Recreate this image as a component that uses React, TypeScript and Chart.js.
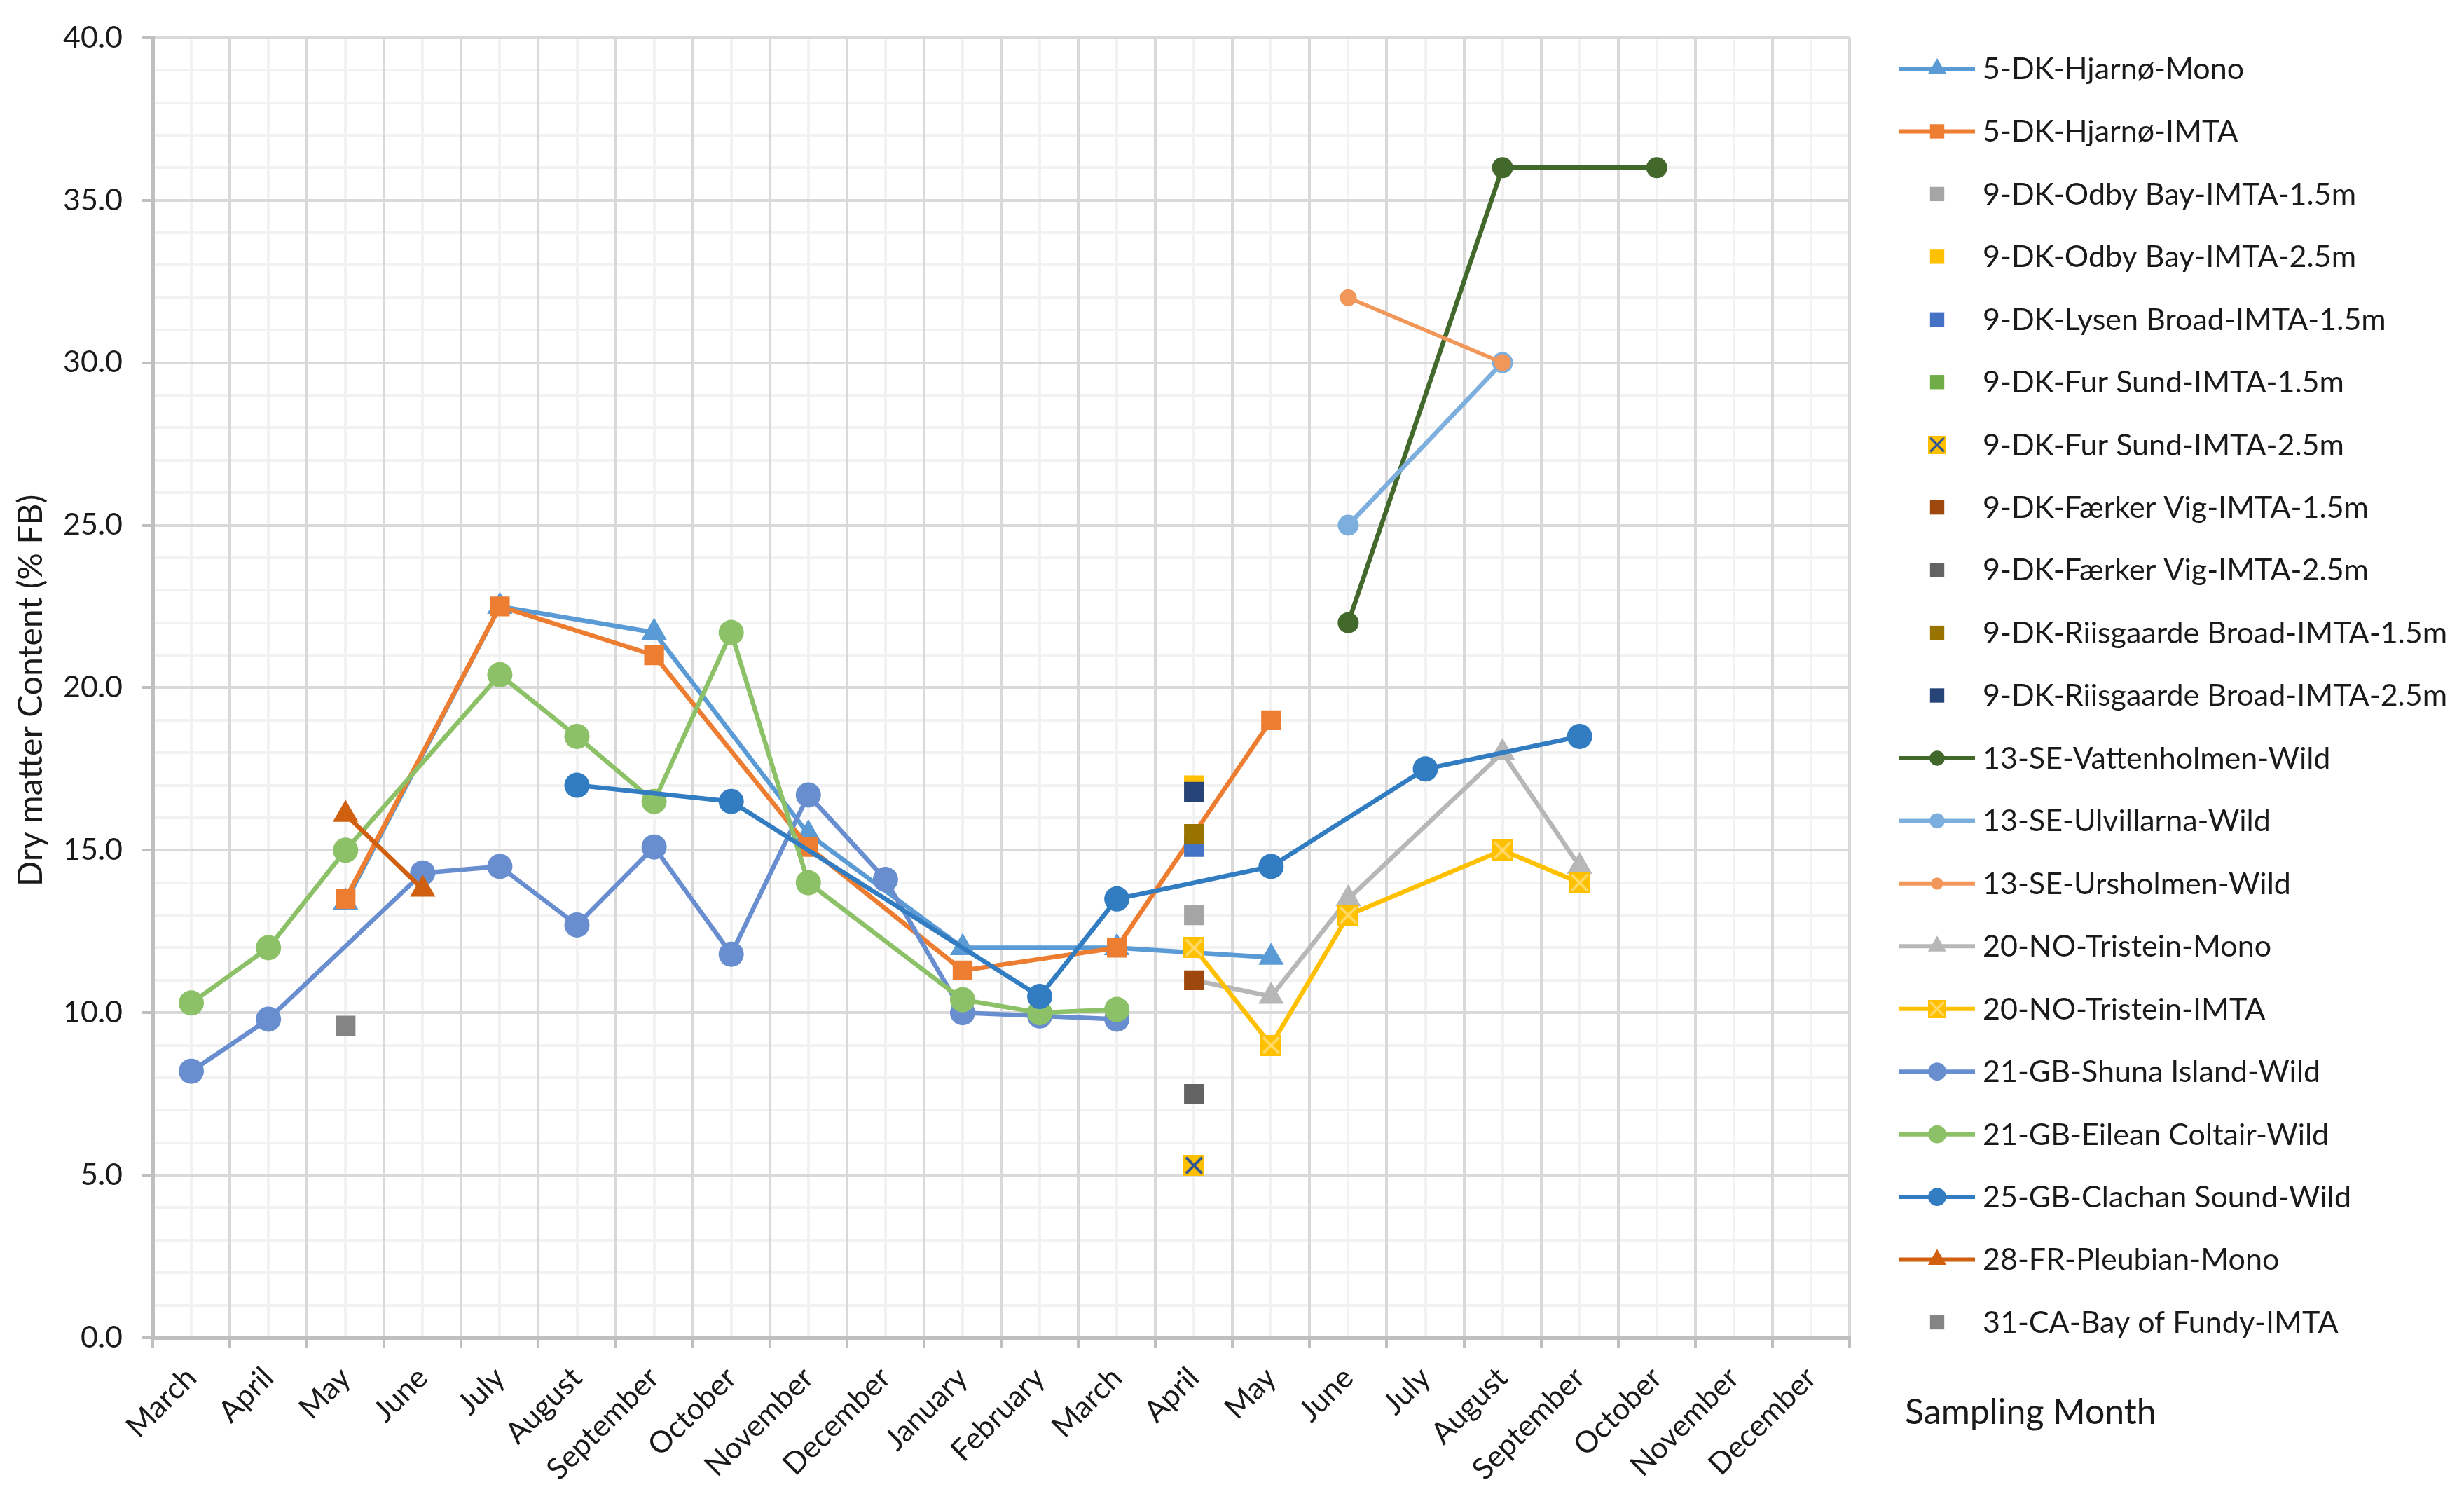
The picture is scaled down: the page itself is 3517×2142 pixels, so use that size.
import { useEffect, useRef } from "react";
import { Chart, registerables } from "chart.js";
import { drawPoint } from "chart.js/helpers";

Chart.register(...registerables);

const _ = null;

// sampling months along the x axis (two seasons)
const months = [
  "March", "April", "May", "June", "July", "August", "September", "October", "November", "December",
  "January", "February", "March", "April", "May", "June", "July", "August", "September", "October",
  "November", "December",
];

const yMax = 40;
const yStep = 5;

const hjarnoMono = [_, _, 13.4, _, 22.5, _, 21.7, _, 15.5, _, 12.0, _, 12.0, _, 11.7, _, _, _, _, _, _, _];
const hjarnoImta = [_, _, 13.5, _, 22.5, _, 21.0, _, 15.1, _, 11.3, _, 12.0, _, 19.0, _, _, _, _, _, _, _];
const odby15 = [_, _, _, _, _, _, _, _, _, _, _, _, _, 13.0, _, _, _, _, _, _, _, _];
const odby25 = [_, _, _, _, _, _, _, _, _, _, _, _, _, 17.0, _, _, _, _, _, _, _, _];
const lysen15 = [_, _, _, _, _, _, _, _, _, _, _, _, _, 15.1, _, _, _, _, _, _, _, _];
const furSund15 = [_, _, _, _, _, _, _, _, _, _, _, _, _, 5.3, _, _, _, _, _, _, _, _];
const furSund25 = [_, _, _, _, _, _, _, _, _, _, _, _, _, 5.3, _, _, _, _, _, _, _, _];
const faerker15 = [_, _, _, _, _, _, _, _, _, _, _, _, _, 11.0, _, _, _, _, _, _, _, _];
const faerker25 = [_, _, _, _, _, _, _, _, _, _, _, _, _, 7.5, _, _, _, _, _, _, _, _];
const riis15 = [_, _, _, _, _, _, _, _, _, _, _, _, _, 15.5, _, _, _, _, _, _, _, _];
const riis25 = [_, _, _, _, _, _, _, _, _, _, _, _, _, 16.8, _, _, _, _, _, _, _, _];
const vattenholmen = [_, _, _, _, _, _, _, _, _, _, _, _, _, _, _, 22.0, _, 36.0, _, 36.0, _, _];
const ulvillarna = [_, _, _, _, _, _, _, _, _, _, _, _, _, _, _, 25.0, _, 30.0, _, _, _, _];
const ursholmen = [_, _, _, _, _, _, _, _, _, _, _, _, _, _, _, 32.0, _, 30.0, _, _, _, _];
const tristeinMono = [_, _, _, _, _, _, _, _, _, _, _, _, _, 11.0, 10.5, 13.5, _, 18.0, 14.5, _, _, _];
const tristeinImta = [_, _, _, _, _, _, _, _, _, _, _, _, _, 12.0, 9.0, 13.0, _, 15.0, 14.0, _, _, _];
const shuna = [8.2, 9.8, _, 14.3, 14.5, 12.7, 15.1, 11.8, 16.7, 14.1, 10.0, 9.9, 9.8, _, _, _, _, _, _, _, _, _];
const eilean = [10.3, 12.0, 15.0, _, 20.4, 18.5, 16.5, 21.7, 14.0, _, 10.4, 10.0, 10.1, _, _, _, _, _, _, _, _, _];
const clachan = [_, _, _, _, _, 17.0, _, 16.5, _, _, _, 10.5, 13.5, _, 14.5, _, 17.5, _, 18.5, _, _, _];
const pleubian = [_, _, 16.1, 13.8, _, _, _, _, _, _, _, _, _, _, _, _, _, _, _, _, _, _];
const bayOfFundy = [_, _, 9.6, _, _, _, _, _, _, _, _, _, _, _, _, _, _, _, _, _, _, _];

const seriesNames = [
  "5-DK-Hjarnø-Mono",
  "5-DK-Hjarnø-IMTA",
  "9-DK-Odby Bay-IMTA-1.5m",
  "9-DK-Odby Bay-IMTA-2.5m",
  "9-DK-Lysen Broad-IMTA-1.5m",
  "9-DK-Fur Sund-IMTA-1.5m",
  "9-DK-Fur Sund-IMTA-2.5m",
  "9-DK-Færker Vig-IMTA-1.5m",
  "9-DK-Færker Vig-IMTA-2.5m",
  "9-DK-Riisgaarde Broad-IMTA-1.5m",
  "9-DK-Riisgaarde Broad-IMTA-2.5m",
  "13-SE-Vattenholmen-Wild",
  "13-SE-Ulvillarna-Wild",
  "13-SE-Ursholmen-Wild",
  "20-NO-Tristein-Mono",
  "20-NO-Tristein-IMTA",
  "21-GB-Shuna Island-Wild",
  "21-GB-Eilean Coltair-Wild",
  "25-GB-Clachan Sound-Wild",
  "28-FR-Pleubian-Mono",
  "31-CA-Bay of Fundy-IMTA",
];

const seriesValues = [
  hjarnoMono, hjarnoImta, odby15, odby25, lysen15, furSund15, furSund25, faerker15, faerker25,
  riis15, riis25, vattenholmen, ulvillarna, ursholmen, tristeinMono, tristeinImta, shuna, eilean,
  clachan, pleubian, bayOfFundy,
];

type Look = { color: string; marker: string; r: number; line: boolean; cross?: string; width?: number };

const looks: Look[] = [
  { color: "#5B9BD5", marker: "triangle", r: 21, line: true },
  { color: "#ED7D31", marker: "rect", r: 20, line: true },
  { color: "#A5A5A5", marker: "rect", r: 20, line: false },
  { color: "#FFC000", marker: "rect", r: 20, line: false },
  { color: "#4472C4", marker: "rect", r: 20, line: false },
  { color: "#70AD47", marker: "rect", r: 20, line: false },
  { color: "#FFC000", marker: "xbox", cross: "#2F5597", r: 20, line: false },
  { color: "#9E480E", marker: "rect", r: 20, line: false },
  { color: "#636363", marker: "rect", r: 20, line: false },
  { color: "#997300", marker: "rect", r: 20, line: false },
  { color: "#264478", marker: "rect", r: 20, line: false },
  { color: "#43682B", marker: "circle", r: 15, line: true },
  { color: "#7CAFDD", marker: "circle", r: 15, line: true },
  { color: "#F1975A", marker: "circle", r: 12, line: true, width: 5.5 },
  { color: "#B7B7B7", marker: "triangle", r: 21, line: true },
  { color: "#FFC000", marker: "xbox", cross: "#FFD966", r: 20, line: true },
  { color: "#698ED0", marker: "circle", r: 18, line: true },
  { color: "#8CC168", marker: "circle", r: 18, line: true },
  { color: "#327DC2", marker: "circle", r: 18, line: true },
  { color: "#D0600F", marker: "triangle", r: 21, line: true },
  { color: "#848484", marker: "rect", r: 20, line: false },
];

const FONT = "Lato";
const TEXT = "#1a1a1a";
const MAJOR = "#D9D9D9";
const MINOR = "#F2F2F2";
const AXIS = "#BFBFBF";

function xBox(fill: string, cross: string, side: number) {
  const c = document.createElement("canvas");
  c.width = side;
  c.height = side;
  const g = c.getContext("2d")!;
  g.fillStyle = fill;
  g.fillRect(0, 0, side, side);
  g.strokeStyle = cross;
  g.lineWidth = side * 0.13;
  g.beginPath();
  g.moveTo(side * 0.12, side * 0.12);
  g.lineTo(side * 0.88, side * 0.88);
  g.moveTo(side * 0.88, side * 0.12);
  g.lineTo(side * 0.12, side * 0.88);
  g.stroke();
  return c;
}

function pointStyleOf(look: Look, scale: number): any {
  if (look.marker === "xbox") return xBox(look.color, look.cross || look.color, Math.round(look.r * 1.5 * scale));
  return look.marker;
}

// legend, axis title and the stray "Sampling Month" caption, Excel style
const extrasPlugin = {
  id: "extras",
  afterDraw(chart: Chart) {
    const ctx = chart.ctx;
    ctx.save();
    const rowTop = 98;
    const rowGap = 89.45;
    chart.data.datasets.forEach((ds: any, i: number) => {
      const look = looks[i];
      const y = rowTop + i * rowGap;
      if (look.line) {
        ctx.strokeStyle = look.color;
        ctx.lineWidth = 6;
        ctx.beginPath();
        ctx.moveTo(2711, y);
        ctx.lineTo(2819, y);
        ctx.stroke();
      }
      ctx.fillStyle = look.color;
      ctx.strokeStyle = look.color;
      drawPoint(
        ctx,
        { pointStyle: pointStyleOf(look, 0.85), radius: look.r * 0.72, rotation: 0, borderWidth: 0 } as any,
        2765,
        y
      );
      ctx.fillStyle = TEXT;
      ctx.font = `43px ${FONT}`;
      ctx.textAlign = "left";
      ctx.textBaseline = "middle";
      ctx.fillText(ds.label, 2830, y + 1);
    });

    const area = chart.chartArea;
    ctx.save();
    ctx.translate(45, (area.top + area.bottom) / 2 + 4);
    ctx.rotate(-Math.PI / 2);
    ctx.textAlign = "center";
    ctx.textBaseline = "middle";
    ctx.fillStyle = TEXT;
    ctx.font = `48px ${FONT}`;
    ctx.fillText("Dry matter Content (% FB)", 0, 0);
    ctx.restore();

    ctx.fillStyle = TEXT;
    ctx.font = `50px ${FONT}`;
    ctx.textAlign = "left";
    ctx.textBaseline = "middle";
    ctx.fillText("Sampling Month", 2719, 2016);
    ctx.restore();
  },
};

function App() {
  const chartRef = useRef<HTMLCanvasElement>(null);
  const chartInstance = useRef<Chart | null>(null);

  useEffect(() => {
    if (chartInstance.current) chartInstance.current.destroy();

    const datasets = seriesNames.map((name, i) => {
      const look = looks[i];
      const style = pointStyleOf(look, 1);
      return {
        label: name,
        data: seriesValues[i],
        borderColor: look.color,
        backgroundColor: look.color,
        borderWidth: look.width || 6.5,
        borderJoinStyle: "round" as const,
        borderCapStyle: "round" as const,
        pointStyle: style,
        // Tristein-Mono's April marker sits hidden behind the Færker Vig square
        pointRadius: name === "20-NO-Tristein-Mono" ? (c: any) => (c.dataIndex === 13 ? 0 : look.r) : look.r,
        pointBorderWidth: 0,
        pointHoverRadius: look.r,
        showLine: look.line,
        spanGaps: true,
        tension: 0,
        order: look.line ? 100 - i : -i,
      };
    });

    chartInstance.current = new Chart(chartRef.current!, {
      type: "line",
      data: { labels: months, datasets },
      options: {
        animation: false,
        responsive: true,
        maintainAspectRatio: false,
        devicePixelRatio: 1,
        events: [],
        layout: { padding: { top: 52, right: 3517 - 2640, bottom: 0, left: 0 } },
        plugins: {
          legend: { display: false },
          tooltip: { enabled: false },
        },
        scales: {
          xMinor: {
            type: "category",
            position: "bottom",
            offset: true,
            z: -1,
            grid: { offset: false, color: MINOR, lineWidth: 4, drawTicks: false },
            border: { display: false },
            ticks: { display: false },
            afterFit: (s: any) => {
              s.height = 0;
            },
          },
          yMinor: {
            type: "linear",
            position: "left",
            min: 0,
            max: yMax,
            z: -1,
            grid: { color: MINOR, lineWidth: 4, drawTicks: false },
            border: { display: false },
            ticks: { display: false, stepSize: 1 },
            afterFit: (s: any) => {
              s.width = 0;
            },
          },
          x: {
            type: "category",
            position: "bottom",
            offset: true,
            grid: { offset: true, color: MAJOR, lineWidth: 4, tickLength: 14, tickColor: AXIS, tickWidth: 4 },
            border: { color: AXIS, width: 5 },
            ticks: {
              autoSkip: false,
              minRotation: 45,
              maxRotation: 45,
              padding: 18,
              color: TEXT,
              font: { family: FONT, size: 43 },
            },
            afterFit: (s: any) => {
              s.height = 2142 - 1909;
            },
          },
          y: {
            type: "linear",
            position: "left",
            min: 0,
            max: yMax,
            grid: { color: MAJOR, lineWidth: 4, tickLength: 15, tickColor: AXIS, tickWidth: 4 },
            border: { color: AXIS, width: 5 },
            ticks: {
              stepSize: yStep,
              padding: 28,
              color: TEXT,
              font: { family: FONT, size: 43 },
              callback: (v: any) => Number(v).toFixed(1),
            },
            afterFit: (s: any) => {
              s.width = 218;
            },
          },
        },
      },
      plugins: [extrasPlugin],
    } as any);

    return () => {
      if (chartInstance.current) {
        chartInstance.current.destroy();
        chartInstance.current = null;
      }
    };
  }, []);

  return (
    <div style={{ position: "fixed", left: 0, top: 0, width: 3517, height: 2142, background: "#fff" }}>
      <canvas ref={chartRef} />
    </div>
  );
}

export default App;
